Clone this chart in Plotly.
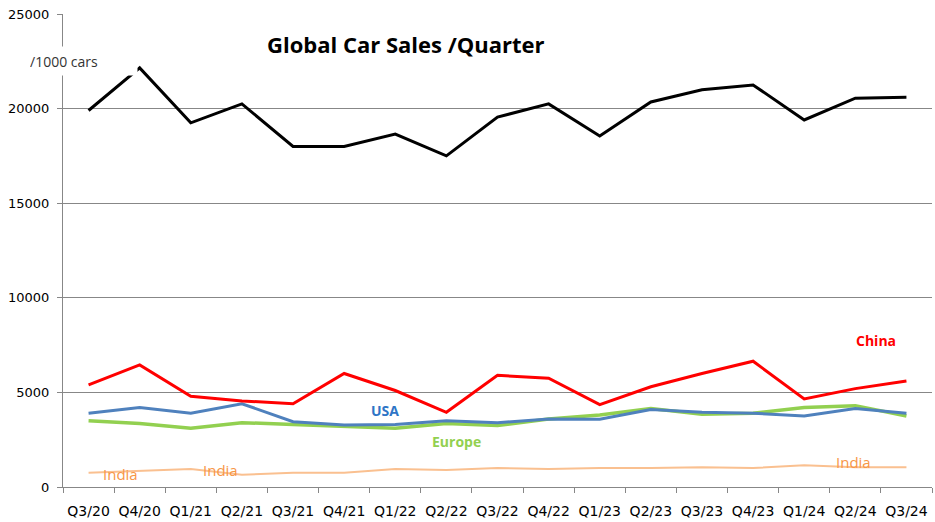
import plotly.graph_objects as go

# Ventas trimestrales de coches (miles de unidades)
quarters = ["Q3/20", "Q4/20", "Q1/21", "Q2/21", "Q3/21", "Q4/21", "Q1/22", "Q2/22", "Q3/22",
            "Q4/22", "Q1/23", "Q2/23", "Q3/23", "Q4/23", "Q1/24", "Q2/24", "Q3/24"]

global_sales = [19900, 22150, 19250, 20250, 18000, 18000, 18650, 17500, 19550,
                20250, 18550, 20350, 21000, 21250, 19400, 20550, 20600]
china = [5400, 6450, 4800, 4550, 4400, 6000, 5100, 3950, 5900,
         5750, 4350, 5300, 6000, 6650, 4650, 5200, 5600]
usa = [3900, 4200, 3900, 4400, 3450, 3280, 3300, 3500, 3400,
       3600, 3580, 4100, 3950, 3900, 3750, 4150, 3900]
europe = [3500, 3350, 3100, 3400, 3300, 3200, 3100, 3350, 3250,
          3600, 3800, 4150, 3850, 3900, 4200, 4300, 3750]
india = [750, 850, 950, 650, 750, 750, 950, 900, 1000,
         950, 1000, 1000, 1050, 1000, 1150, 1050, 1050]

y_ticks = [0, 5000, 10000, 15000, 20000, 25000]

fig = go.Figure()

fig.add_trace(go.Scatter(x=quarters, y=india, mode='lines', name='India',
                         line=dict(color='#FAC090', width=2)))
fig.add_trace(go.Scatter(x=quarters, y=europe, mode='lines', name='Europe',
                         line=dict(color='#92D050', width=3.5)))
fig.add_trace(go.Scatter(x=quarters, y=usa, mode='lines', name='USA',
                         line=dict(color='#4F81BD', width=3)))
fig.add_trace(go.Scatter(x=quarters, y=china, mode='lines', name='China',
                         line=dict(color='#FF0000', width=3)))
fig.add_trace(go.Scatter(x=quarters, y=global_sales, mode='lines', name='Global',
                         line=dict(color='#000000', width=3)))

# Etiquetas de las series
etiquetas = [
    (5.8, 4020, "<b>USA</b>", '#2E75C6', 14),
    (7.2, 2380, "<b>Europe</b>", '#92D050', 14),
    (15.4, 7720, "<b>China</b>", '#FF0000', 14),
    (0.62, 690, "India", '#F79646', 15),
    (2.59, 900, "India", '#F79646', 15),
    (14.96, 1320, "India", '#F79646', 15),
]
for x, y, txt, color, size in etiquetas:
    fig.add_annotation(x=x, y=y, xref='x', yref='y', text=txt, showarrow=False,
                       font=dict(family='Open Sans', size=size, color=color))

fig.add_annotation(x=-0.0414, y=0.9006, xref='paper', yref='paper', xanchor='left', yanchor='middle',
                   text="/1000 cars", showarrow=False, align='left', width=105, height=24,
                   bgcolor='white', borderpad=2,
                   font=dict(family='Open Sans', size=14, color='#333333'))

fig.update_layout(
    width=935, height=522,
    margin=dict(l=63, r=3, t=14, b=35),
    paper_bgcolor='white', plot_bgcolor='white',
    showlegend=False,
    title=dict(text="<b>Global Car Sales /Quarter</b>", xref='container', yref='container',
               x=0.434, y=0.914, xanchor='center', yanchor='middle',
               font=dict(family='Open Sans', size=22, color='#000000')),
)

fig.update_xaxes(type='category', range=[-0.5, 16.5], tickson='boundaries',
                 ticks='outside', ticklen=5, tickcolor='#878787', tickangle=0,
                 showline=True, linecolor='#878787', linewidth=1, showgrid=False,
                 ticklabelstandoff=11,
                 tickfont=dict(family='DejaVu Sans', size=14, color='#000000'))
fig.update_yaxes(range=[0, 25000], tickvals=y_ticks, ticktext=[str(v) for v in y_ticks],
                 ticks='outside', ticklen=5, tickcolor='#878787',
                 showline=True, linecolor='#878787', linewidth=1,
                 showgrid=True, gridcolor='#878787', gridwidth=1, zeroline=False,
                 ticklabelstandoff=5,
                 tickfont=dict(family='DejaVu Sans', size=13, color='#000000'))

# quitar el margen por defecto del body para que la figura empiece en (0,0)
fig.write_html("out.html", config={'displayModeBar': False},
               post_script="document.body.style.margin='0px';")
